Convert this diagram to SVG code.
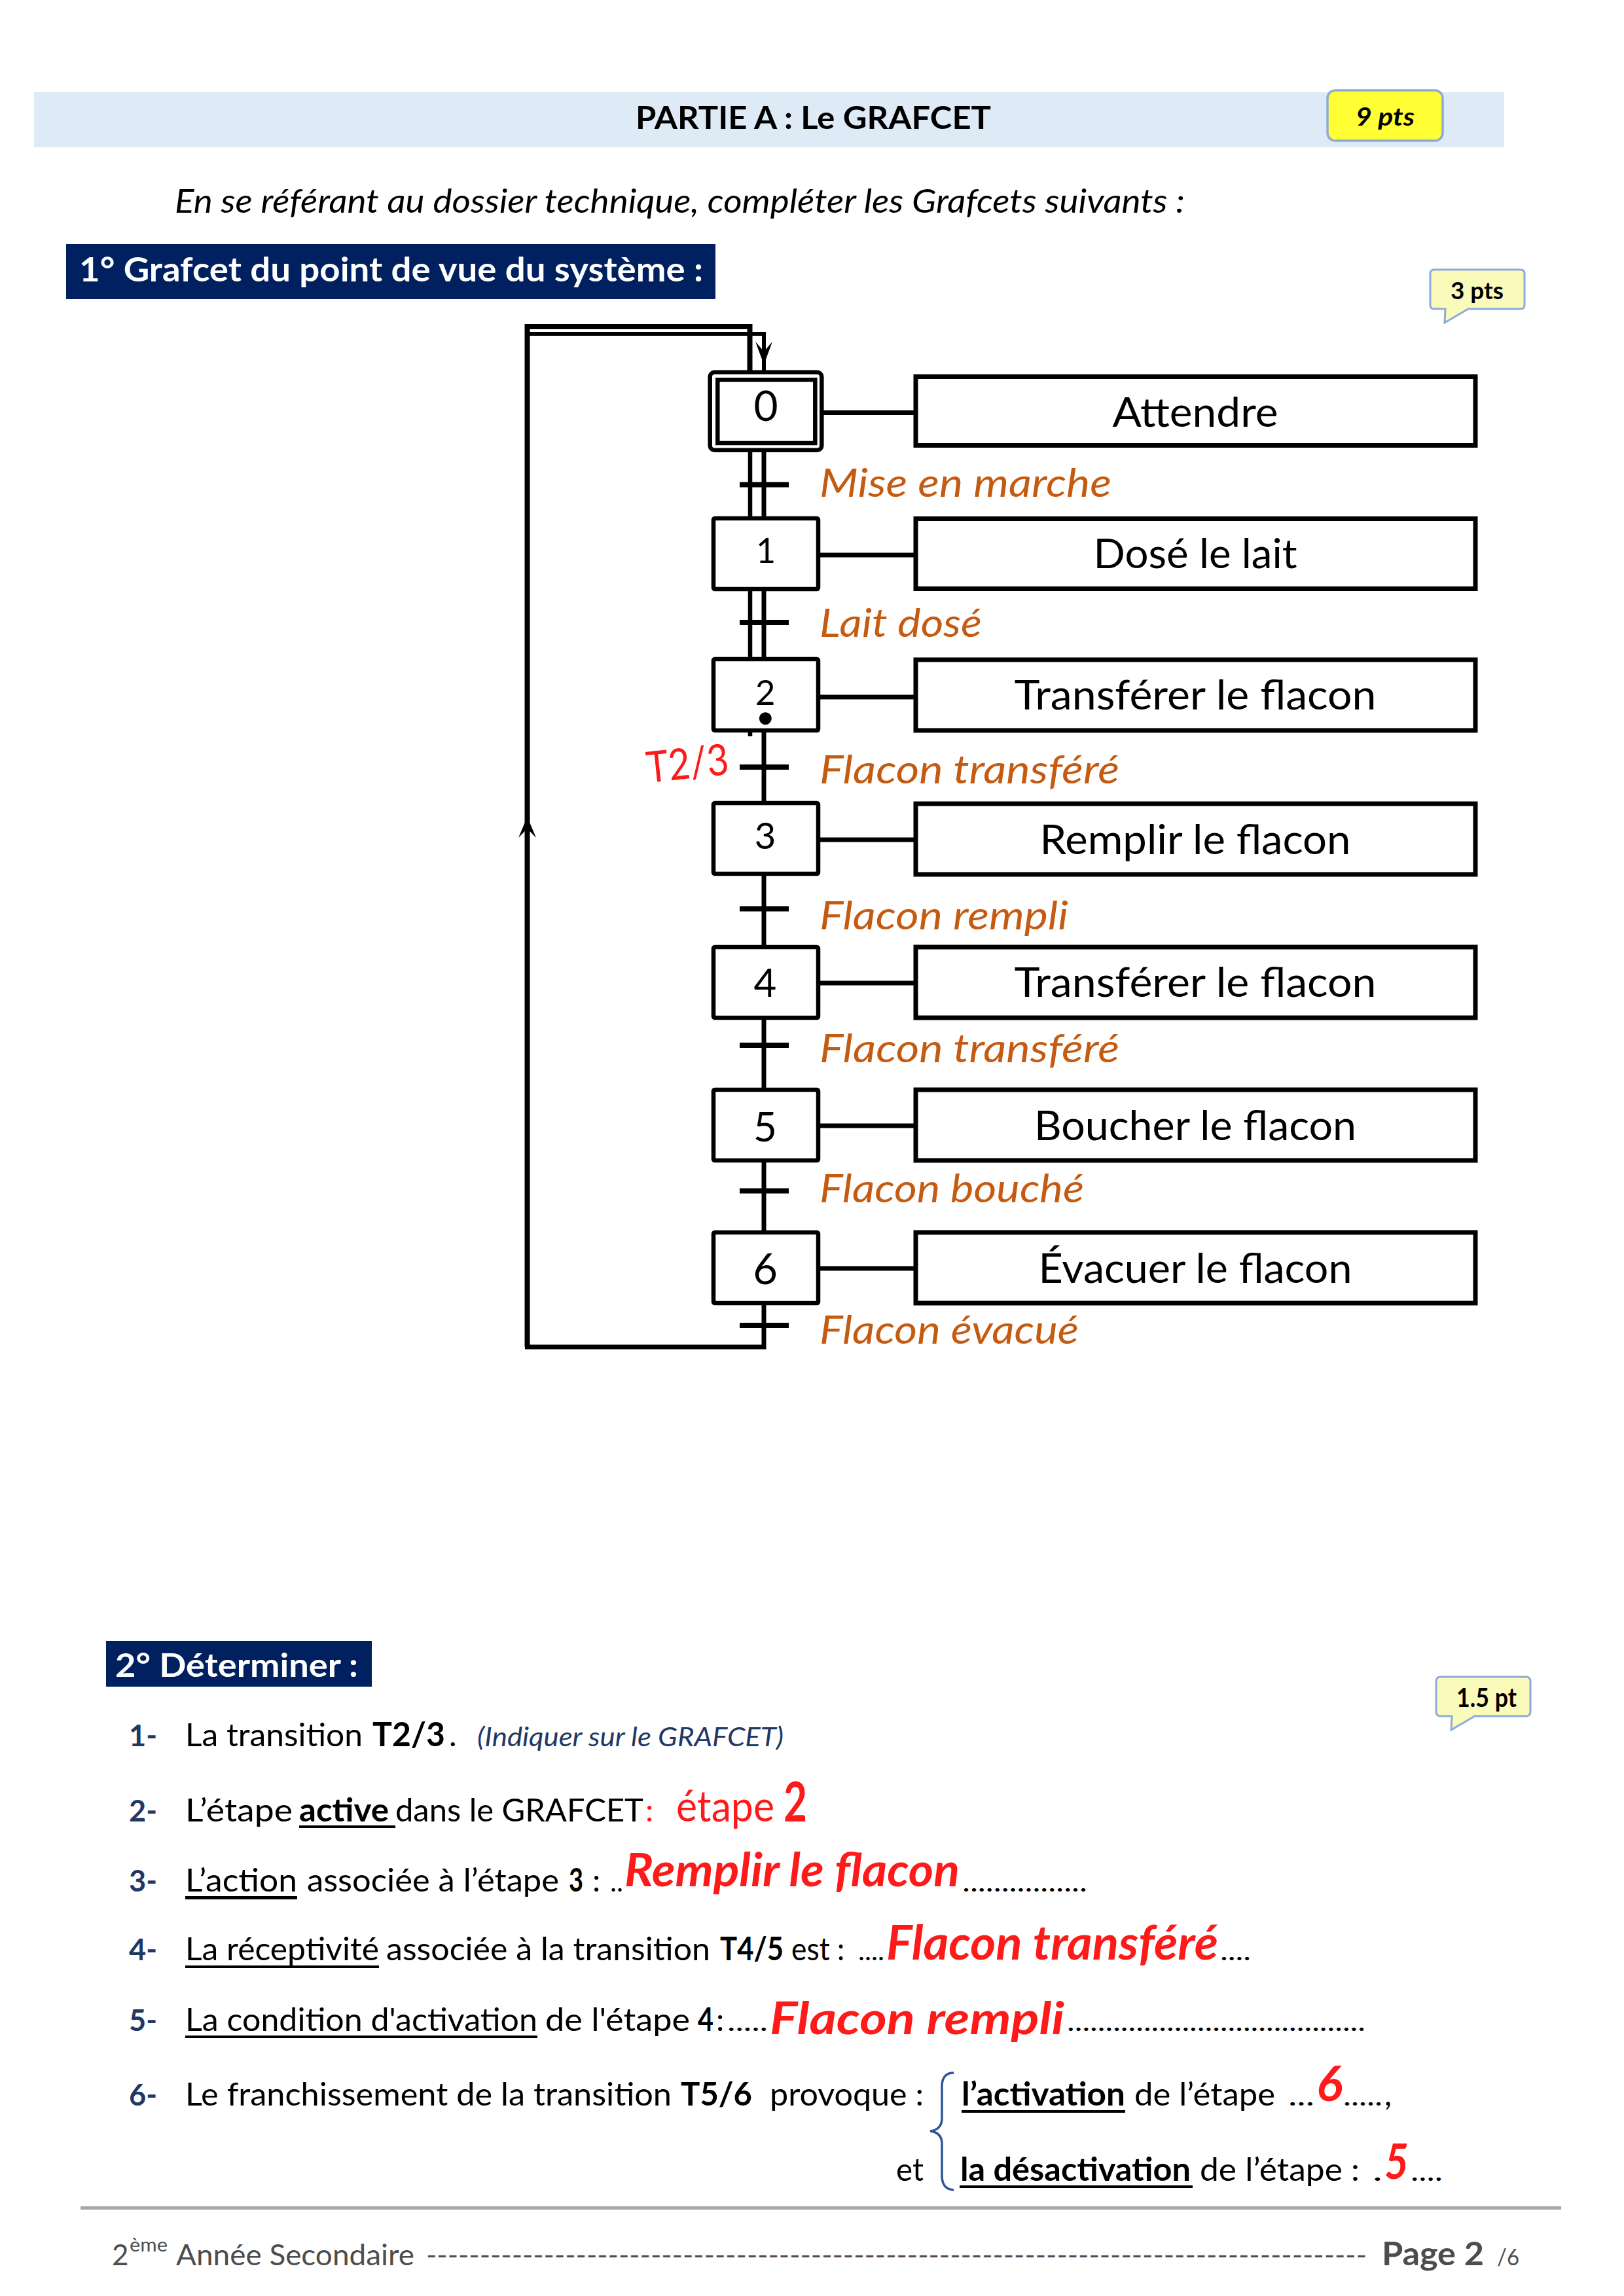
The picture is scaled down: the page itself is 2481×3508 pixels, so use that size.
<svg xmlns="http://www.w3.org/2000/svg" width="2481" height="3508" viewBox="0 0 2481 3508">
<style>
text{font-family:Lato,"Open Sans","Liberation Sans",sans-serif;}
.step{fill:#fff;stroke:#000;stroke-width:6.5;}
.act{fill:#fff;stroke:#000;stroke-width:7;}
.num{text-anchor:middle;fill:#000;}
.atxt{font-size:61px;text-anchor:middle;fill:#000;}
.rec{font-size:61px;font-style:italic;fill:#C55A11;}
.ln{stroke:#000;fill:none;}
.body{fill:#000;}
.b{font-weight:bold;}
.mk{font-size:46px;font-weight:bold;fill:#1F3864;}
.red{fill:#FF1A1A;}
.ans{font-weight:bold;font-style:italic;fill:#FF1A1A;}
.dots{font-size:40px;fill:#000;}
.ul{fill:#000;}
.foot{fill:#4D4D4D;}
</style>
<defs>
<path id="arrowDown" d="M-13,0 L0,35 L13,0 L0,15 Z"/>
</defs>
<rect width="2481" height="3508" fill="#fff"/>

<g id="header">
<rect x="52" y="141" width="2246" height="84" fill="#DEEAF6"/>
<text x="971" y="197" font-size="48" font-weight="bold" textLength="543" lengthAdjust="spacingAndGlyphs">PARTIE A : Le GRAFCET</text>
</g>
<g id="badge-9pts">
<rect x="2028" y="138" width="176" height="77" rx="12" fill="#FFFF33" stroke="#8EAADB" stroke-width="3.5"/>
<text x="2071" y="192" font-size="38" font-weight="bold" font-style="italic" textLength="90" lengthAdjust="spacingAndGlyphs">9 pts</text>
</g>
<text id="instruction" x="267" y="325" font-size="51" font-style="italic" textLength="1543" lengthAdjust="spacingAndGlyphs">En se référant au dossier technique, compléter les Grafcets suivants :</text>
<g id="title-1">
<rect x="101" y="373" width="992" height="84" fill="#002060"/>
<text x="121" y="430" font-size="51" font-weight="bold" fill="#fff" textLength="953" lengthAdjust="spacingAndGlyphs">1° Grafcet du point de vue du système :</text>
</g>
<g id="badge-3pts">
<path d="M2192,412 H2323 Q2329,412 2329,418 V466 Q2329,472 2323,472 H2243 L2207,493 L2208,472 H2191 Q2185,472 2185,466 V418 Q2185,412 2191,412 Z" fill="#FAFABA" stroke="#8EAADB" stroke-width="3"/>
<text x="2216" y="457" font-size="36" font-weight="bold" textLength="81" lengthAdjust="spacingAndGlyphs">3 pts</text>
</g>

<g id="connectors">
<path class="ln" stroke-width="8" d="M805.5,2058 V499 H1145.5 V574"/>
<path class="ln" stroke-width="6" d="M805,510 H1167 V574"/>
<use href="#arrowDown" x="1167" y="522"/>
<path d="M792,1280 L805.5,1248 L819,1280 L805.5,1266 Z" fill="#000"/>
<path class="ln" stroke-width="6.5" d="M1146,574 V1125"/>
<path class="ln" stroke-width="7" d="M1167,574 V2058 H802"/>
<g stroke="#000" stroke-width="8">
<line x1="1130" y1="740.5" x2="1205" y2="740.5"/>
<line x1="1130" y1="951" x2="1205" y2="951"/>
<line x1="1130" y1="1172" x2="1205" y2="1172"/>
<line x1="1130" y1="1388.5" x2="1205" y2="1388.5"/>
<line x1="1130" y1="1597" x2="1205" y2="1597"/>
<line x1="1130" y1="1819.5" x2="1205" y2="1819.5"/>
<line x1="1130" y1="2025" x2="1205" y2="2025"/>
</g>
<g stroke="#000" stroke-width="7">
<line x1="1250" y1="630.5" x2="1399" y2="630.5"/>
<line x1="1250" y1="848" x2="1399" y2="848"/>
<line x1="1250" y1="1065" x2="1399" y2="1065"/>
<line x1="1250" y1="1283" x2="1399" y2="1283"/>
<line x1="1250" y1="1502" x2="1399" y2="1502"/>
<line x1="1250" y1="1720" x2="1399" y2="1720"/>
<line x1="1250" y1="1938" x2="1399" y2="1938"/>
</g>
</g>

<g id="step0">
<rect class="step" x="1084.7" y="568.7" width="170.6" height="119" rx="7"/>
<rect class="step" x="1096.3" y="580.3" width="149" height="96.7"/>
<text class="num" x="1170" y="643" style="font-size:64px">0</text>
</g>
<g id="step1"><rect class="step" x="1090" y="792" width="160" height="108" rx="2"/><text class="num" x="1170" y="860" style="font-size:52px">1</text></g>
<g id="step2"><rect class="step" x="1090" y="1007" width="160" height="109" rx="2"/><text class="num" x="1169" y="1077" style="font-size:53px">2</text><circle cx="1169.3" cy="1097.7" r="9.5" fill="#000"/></g>
<g id="step3"><rect class="step" x="1090" y="1227" width="160" height="108" rx="2"/><text class="num" x="1169" y="1297" style="font-size:56px">3</text></g>
<g id="step4"><rect class="step" x="1090" y="1447" width="160" height="108" rx="2"/><text class="num" x="1169" y="1523" style="font-size:60px">4</text></g>
<g id="step5"><rect class="step" x="1090" y="1665" width="160" height="108" rx="2"/><text class="num" x="1169" y="1744" style="font-size:62px">5</text></g>
<g id="step6"><rect class="step" x="1090" y="1883" width="160" height="108" rx="2"/><text class="num" x="1169" y="1962" style="font-size:65px">6</text></g>

<g id="action0"><rect class="act" x="1399" y="575.5" width="855" height="105"/><text class="atxt" x="1826" y="652" textLength="253" lengthAdjust="spacingAndGlyphs">Attendre</text></g>
<g id="action1"><rect class="act" x="1399" y="792.5" width="855" height="107"/><text class="atxt" x="1826" y="868" textLength="311" lengthAdjust="spacingAndGlyphs">Dosé le lait</text></g>
<g id="action2"><rect class="act" x="1399" y="1008" width="855" height="108"/><text class="atxt" x="1826" y="1084" textLength="553" lengthAdjust="spacingAndGlyphs">Transférer le flacon</text></g>
<g id="action3"><rect class="act" x="1399" y="1228" width="855" height="108"/><text class="atxt" x="1826" y="1305" textLength="475" lengthAdjust="spacingAndGlyphs">Remplir le flacon</text></g>
<g id="action4"><rect class="act" x="1399" y="1447" width="855" height="108"/><text class="atxt" x="1826" y="1523" textLength="553" lengthAdjust="spacingAndGlyphs">Transférer le flacon</text></g>
<g id="action5"><rect class="act" x="1399" y="1665" width="855" height="108"/><text class="atxt" x="1826" y="1742" textLength="492" lengthAdjust="spacingAndGlyphs">Boucher le flacon</text></g>
<g id="action6"><rect class="act" x="1399" y="1883" width="855" height="108"/><text class="atxt" x="1826" y="1960" textLength="479" lengthAdjust="spacingAndGlyphs">Évacuer le flacon</text></g>

<g id="receptivities">
<text class="rec" x="1252" y="759" textLength="446" lengthAdjust="spacingAndGlyphs">Mise en marche</text>
<text class="rec" x="1252" y="973" textLength="248" lengthAdjust="spacingAndGlyphs">Lait dosé</text>
<text class="rec" x="1252" y="1197" textLength="458" lengthAdjust="spacingAndGlyphs">Flacon transféré</text>
<text class="rec" x="1252" y="1420" textLength="380" lengthAdjust="spacingAndGlyphs">Flacon rempli</text>
<text class="rec" x="1252" y="1623" textLength="458" lengthAdjust="spacingAndGlyphs">Flacon transféré</text>
<text class="rec" x="1252" y="1837" textLength="404" lengthAdjust="spacingAndGlyphs">Flacon bouché</text>
<text class="rec" x="1252" y="2053" textLength="396" lengthAdjust="spacingAndGlyphs">Flacon évacué</text>
</g>
<text id="t23-note" x="990" y="1196" font-size="66" fill="#FF1A1A" font-family="Liberation Sans, sans-serif" textLength="126" lengthAdjust="spacingAndGlyphs" transform="rotate(-6 990 1196)">T2/3</text>

<g id="title-2">
<rect x="162" y="2507" width="406" height="70" fill="#002060"/>
<text x="176" y="2562" font-size="49" font-weight="bold" fill="#fff" textLength="371" lengthAdjust="spacingAndGlyphs">2° Déterminer :</text>
</g>
<g id="badge-15pt">
<path d="M2201,2562 H2331 Q2338,2562 2338,2569 V2615 Q2338,2622 2331,2622 H2253 L2217,2643 L2218,2622 H2201 Q2194,2622 2194,2615 V2569 Q2194,2562 2201,2562 Z" fill="#FAFABA" stroke="#8EAADB" stroke-width="3"/>
<text x="2225" y="2608" font-size="40" font-weight="bold" textLength="92" lengthAdjust="spacingAndGlyphs">1.5 pt</text>
</g>

<g id="q1" font-size="49">
<text class="mk" x="197" y="2668" textLength="43" lengthAdjust="spacingAndGlyphs">1-</text>
<text class="body" x="283" y="2668" textLength="271" lengthAdjust="spacingAndGlyphs">La transition</text>
<text class="body b" x="569" y="2668" font-size="52" textLength="111" lengthAdjust="spacingAndGlyphs">T2/3</text>
<text class="body" x="686" y="2668">.</text>
<text x="729" y="2668" font-size="40" font-style="italic" fill="#1F3864" textLength="468" lengthAdjust="spacingAndGlyphs">(Indiquer sur le GRAFCET)</text>
</g>
<g id="q2" font-size="49">
<text class="mk" x="197" y="2783" textLength="43" lengthAdjust="spacingAndGlyphs">2-</text>
<text class="body" x="283" y="2783" textLength="164" lengthAdjust="spacingAndGlyphs">L’étape</text>
<text class="body b" x="457" y="2783" textLength="137" lengthAdjust="spacingAndGlyphs">active</text>
<rect class="ul" x="457" y="2789" width="147" height="4"/>
<text class="body" x="604" y="2783" textLength="379" lengthAdjust="spacingAndGlyphs">dans le GRAFCET</text>
<text class="red" x="986" y="2783">:</text>
<text class="red" x="1033" y="2783" font-size="66" textLength="150" lengthAdjust="spacingAndGlyphs">étape</text>
<text class="red" x="1197" y="2783" font-size="85" font-weight="bold" textLength="36" lengthAdjust="spacingAndGlyphs">2</text>
</g>
<g id="q3" font-size="49">
<text class="mk" x="197" y="2890" textLength="43" lengthAdjust="spacingAndGlyphs">3-</text>
<text class="body" x="283" y="2890" textLength="171" lengthAdjust="spacingAndGlyphs">L’action</text>
<rect class="ul" x="283" y="2897" width="171" height="5"/>
<text class="body" x="469" y="2890" textLength="385" lengthAdjust="spacingAndGlyphs">associée à l’étape</text>
<text class="body b" x="869" y="2890" textLength="22" lengthAdjust="spacingAndGlyphs">3</text>
<text class="body" x="905" y="2890">:</text>
<text class="dots" x="932" y="2890" textLength="20" lengthAdjust="spacingAndGlyphs">..</text>
<text class="dots" x="1470" y="2890" textLength="191" lengthAdjust="spacingAndGlyphs">................</text>
<text class="ans" x="954" y="2882" font-size="70" textLength="512" lengthAdjust="spacingAndGlyphs">Remplir le flacon</text>
</g>
<g id="q4" font-size="49">
<text class="mk" x="197" y="2995" textLength="43" lengthAdjust="spacingAndGlyphs">4-</text>
<text class="body" x="283" y="2995" textLength="296" lengthAdjust="spacingAndGlyphs">La réceptivité</text>
<rect class="ul" x="283" y="3003" width="296" height="4"/>
<text class="body" x="590" y="2995" textLength="495" lengthAdjust="spacingAndGlyphs">associée à la transition</text>
<text class="body b" x="1100" y="2995" textLength="97" lengthAdjust="spacingAndGlyphs">T4/5</text>
<text class="body" x="1209" y="2995" textLength="81" lengthAdjust="spacingAndGlyphs">est :</text>
<text class="dots" x="1311" y="2995" textLength="40" lengthAdjust="spacingAndGlyphs">....</text>
<text class="dots" x="1864" y="2995" textLength="47" lengthAdjust="spacingAndGlyphs">....</text>
<text class="ans" x="1354" y="2994" font-size="72" textLength="507" lengthAdjust="spacingAndGlyphs">Flacon transféré</text>
</g>
<g id="q5" font-size="49">
<text class="mk" x="197" y="3103" textLength="43" lengthAdjust="spacingAndGlyphs">5-</text>
<text class="body" x="283" y="3103" textLength="538" lengthAdjust="spacingAndGlyphs">La condition d'activation</text>
<rect class="ul" x="283" y="3110" width="538" height="4"/>
<text class="body" x="833" y="3103" textLength="221" lengthAdjust="spacingAndGlyphs">de l'étape</text>
<text class="body b" x="1066" y="3103" textLength="24" lengthAdjust="spacingAndGlyphs">4</text>
<text class="body" x="1094" y="3103">:</text>
<text class="dots" x="1111" y="3103" textLength="62" lengthAdjust="spacingAndGlyphs">.....</text>
<text class="dots" x="1630" y="3103" textLength="456" lengthAdjust="spacingAndGlyphs">.......................................</text>
<text class="ans" x="1176" y="3108" font-size="68" textLength="450" lengthAdjust="spacingAndGlyphs">Flacon rempli</text>
</g>
<g id="q6" font-size="49">
<text class="mk" x="197" y="3217" textLength="43" lengthAdjust="spacingAndGlyphs">6-</text>
<text class="body" x="283" y="3217" textLength="743" lengthAdjust="spacingAndGlyphs">Le franchissement de la transition</text>
<text class="body b" x="1040" y="3217" textLength="109" lengthAdjust="spacingAndGlyphs">T5/6</text>
<text class="body" x="1176" y="3217" textLength="235" lengthAdjust="spacingAndGlyphs">provoque :</text>
<path d="M1457,3167 Q1440,3167 1439,3186 L1439,3238 Q1438,3254 1421,3256 Q1438,3258 1439,3274 L1439,3326 Q1440,3345 1457,3346" fill="none" stroke="#2F5597" stroke-width="3.5"/>
<text class="body b" x="1469" y="3217" textLength="250" lengthAdjust="spacingAndGlyphs">l’activation</text>
<rect class="ul" x="1469" y="3224" width="250" height="4"/>
<text class="body" x="1733" y="3217" textLength="215" lengthAdjust="spacingAndGlyphs">de l’étape</text>
<text class="dots" x="1968" y="3217" textLength="40" lengthAdjust="spacingAndGlyphs">...</text>
<text class="dots" x="2052" y="3217" textLength="60" lengthAdjust="spacingAndGlyphs">.....</text>
<text class="body" x="2115" y="3217">,</text>
<text class="ans" x="2011" y="3210" font-size="75" textLength="40" lengthAdjust="spacingAndGlyphs">6</text>
<text class="body" x="1369" y="3332" textLength="42" lengthAdjust="spacingAndGlyphs">et</text>
<text class="body b" x="1467" y="3332" textLength="352" lengthAdjust="spacingAndGlyphs">la désactivation</text>
<rect class="ul" x="1466" y="3339" width="356" height="4"/>
<text class="body" x="1833" y="3332" textLength="244" lengthAdjust="spacingAndGlyphs">de l’étape :</text>
<text class="dots" x="2097" y="3332" textLength="15" lengthAdjust="spacingAndGlyphs">.</text>
<text class="dots" x="2155" y="3332" textLength="49" lengthAdjust="spacingAndGlyphs">....</text>
<text class="ans" x="2115" y="3329" font-size="74" textLength="37" lengthAdjust="spacingAndGlyphs">5</text>
</g>

<g id="footer">
<rect x="123" y="3371" width="2262" height="5" fill="#A6A6A6"/>
<text class="foot" x="171" y="3461" font-size="44">2</text>
<text class="foot" x="198" y="3440" font-size="28" textLength="58" lengthAdjust="spacingAndGlyphs">ème</text>
<text class="foot" x="269" y="3461" font-size="44" textLength="364" lengthAdjust="spacingAndGlyphs">Année Secondaire</text>
<text class="foot" x="651" y="3461" font-size="44" textLength="1437" lengthAdjust="spacingAndGlyphs">----------------------------------------------------------------------------------------</text>
<text class="foot" x="2111" y="3461" font-size="50" font-weight="bold" textLength="156" lengthAdjust="spacingAndGlyphs">Page 2</text>
<text class="foot" x="2287" y="3461" font-size="34" textLength="34" lengthAdjust="spacingAndGlyphs">/6</text>
</g>
</svg>
